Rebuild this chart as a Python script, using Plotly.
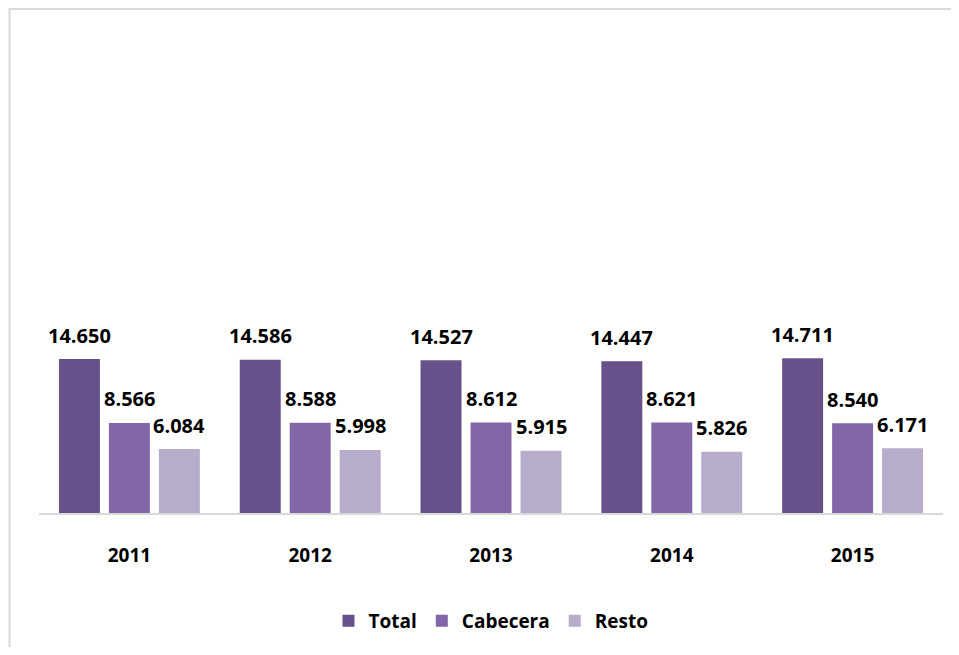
import plotly.graph_objects as go

years = ["2011", "2012", "2013", "2014", "2015"]
total = [14650, 14586, 14527, 14447, 14711]
cabecera = [8566, 8588, 8612, 8621, 8540]
resto = [6084, 5998, 5915, 5826, 6171]

series_names = ["Total", "Cabecera", "Resto"]
series_values = [total, cabecera, resto]
colors = ["#68508a", "#8266a8", "#b7acca"]
label_shift = [-50, 0, 50]

FONT = "Open Sans"

fig = go.Figure()
for name, vals, col in zip(series_names, series_values, colors):
    fig.add_trace(go.Bar(
        x=years, y=vals, name=name,
        marker=dict(color=col, line=dict(width=0)),
    ))

annotations = []
for vals, dx in zip(series_values, label_shift):
    for idx, v in enumerate(vals):
        annotations.append(dict(
            x=idx, y=v, xref="x", yref="y",
            text="{:,.0f}".format(v).replace(",", "."),
            showarrow=False, xshift=dx, yshift=24,
            xanchor="center", yanchor="middle",
            font=dict(family=FONT, size=20, color="#000000", weight="bold"),
        ))

# page body has an 8px margin; figure spans image px 8..951 x 8..647
OFF = 8
W, H = 943, 639
ml, mr, mt, mb = 30.5, 7.5, 12, 134
pw, ph = W - ml - mr, H - mt - mb

def px_x(p):
    return (p - OFF - ml) / pw

def px_y(p):
    return (H - mb - (p - OFF)) / ph

fig.add_shape(type="rect", xref="paper", yref="paper",
              x0=px_x(9), x1=px_x(990), y0=px_y(690), y1=px_y(9),
              line=dict(color="#d9d9d9", width=2), fillcolor="rgba(0,0,0,0)",
              layer="below")

fig.update_layout(
    width=W, height=H,
    margin=dict(l=ml, r=mr, t=mt, b=mb),
    paper_bgcolor="white", plot_bgcolor="white",
    barmode="group", bargap=0.171, bargroupgap=0.18,
    annotations=annotations,
    showlegend=True,
    legend=dict(orientation="h", x=0.5, xanchor="center",
                y=px_y(621), yanchor="middle",
                font=dict(family=FONT, size=19, color="#000000", weight="bold"),
                itemwidth=30, traceorder="normal"),
    xaxis=dict(type="category", range=[-0.5, 4.5], showline=True,
               linecolor="#d9d9d9", linewidth=2,
               showgrid=False, zeroline=False, ticks="", ticklabelstandoff=24,
               tickfont=dict(family=FONT, size=19, color="#000000", weight="bold")),
    yaxis=dict(range=[0, ph / (154 / 14650)], visible=False, showgrid=False,
               zeroline=False),
)

fig.write_html("out.html")
